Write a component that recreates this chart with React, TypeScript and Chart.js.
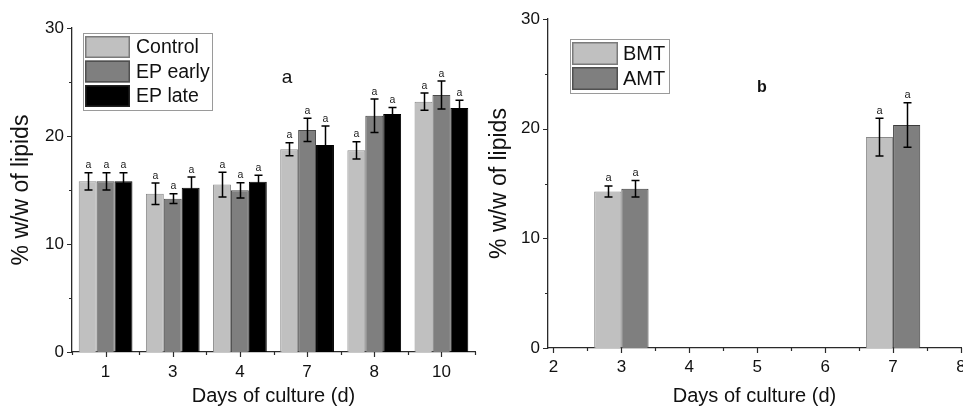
import React, { useEffect, useRef } from 'react';
import { Chart, registerables } from 'chart.js';

Chart.register(...registerables);
Chart.defaults.font.family = '"Liberation Sans", Arial, Helvetica, sans-serif';
Chart.defaults.color = '#111';

// ---------- Panel a data ----------
const daysA = ['1', '3', '4', '7', '8', '10'];
const controlMean = [15.8, 14.65, 15.5, 18.77, 18.67, 23.18];
const controlErr = [0.8, 1.0, 1.15, 0.6, 0.8, 0.8];
const earlyMean = [15.8, 14.2, 14.97, 20.56, 21.88, 23.8];
const earlyErr = [0.8, 0.45, 0.7, 1.08, 1.55, 1.3];
const lateMean = [15.8, 15.2, 15.77, 19.17, 22.04, 22.6];
const lateErr = [0.8, 1.0, 0.6, 1.76, 0.6, 0.7];
const lettersA = ['a', 'a', 'a', 'a', 'a', 'a'];

// ---------- Panel b data ----------
const daysB = [3, 7];
const bmtMean = [14.28, 19.23];
const bmtErr = [0.5, 1.72];
const amtMean = [14.52, 20.33];
const amtErr = [0.75, 2.03];
const lettersB = ['a', 'a'];

// axis settings
const yMin = 0;
const yMax = 30;
const yMajorStep = 10;
const yMinorStep = 5;
const xBMin = 1.92;
const xBMax = 8;

const panelA = { text: 'a', x: 2.7, y: 25.4 };
const panelB = { text: 'b', x: 5.07, y: 23.7 };

const AXIS_COLOR = '#2a2a2a';
const FONT = '"Liberation Sans", Arial, sans-serif';

const errorBarPlugin = {
  id: 'errorBars',
  afterDatasetsDraw(chart: any, _a: any, o: any) {
    const ctx = chart.ctx;
    const ys = chart.scales.y;
    chart.data.datasets.forEach((ds: any, di: number) => {
      const meta = chart.getDatasetMeta(di);
      meta.data.forEach((bar: any, i: number) => {
        const raw = ds.data[i];
        const v = typeof raw === 'number' ? raw : raw.y;
        const e = ds.errors[i];
        const top = ys.getPixelForValue(v + e);
        const bot = ys.getPixelForValue(v - e);
        const x = Math.round(bar.x) + 0.5;
        ctx.save();
        ctx.strokeStyle = o.color;
        ctx.lineWidth = o.lineWidth;
        ctx.beginPath();
        ctx.moveTo(x, top);
        ctx.lineTo(x, bot);
        ctx.moveTo(x - o.cap / 2, top);
        ctx.lineTo(x + o.cap / 2, top);
        ctx.moveTo(x - o.cap / 2, bot);
        ctx.lineTo(x + o.cap / 2, bot);
        ctx.stroke();
        ctx.fillStyle = o.letterColor;
        ctx.font = o.letterFont;
        ctx.textAlign = 'center';
        ctx.textBaseline = 'bottom';
        ctx.fillText(ds.letters[i], x, top - o.letterGap);
        ctx.restore();
      });
    });
  },
};

const axisTickPlugin = {
  id: 'axisTicks',
  afterDraw(chart: any, _a: any, o: any) {
    const { ctx, chartArea } = chart;
    const xs = chart.scales.x;
    const ys = chart.scales.y;
    ctx.save();
    ctx.strokeStyle = o.color;
    ctx.lineWidth = o.lineWidth;
    ctx.beginPath();
    for (let v = ys.min; v <= ys.max + 1e-9; v += o.yMinorStep) {
      const p = Math.round(ys.getPixelForValue(v)) + 0.5;
      const r = v / o.yMajorStep;
      const major = Math.abs(r - Math.round(r)) < 1e-6;
      const len = major ? o.majorLen : o.minorLen;
      ctx.moveTo(chartArea.left - len, p);
      ctx.lineTo(chartArea.left, p);
    }
    const bottom = chartArea.bottom;
    if (xs.type === 'category') {
      const n = chart.data.labels.length;
      for (let i = 0; i < n; i++) {
        const p = Math.round(xs.getPixelForValue(i)) + 0.5;
        ctx.moveTo(p, bottom);
        ctx.lineTo(p, bottom + o.majorLen);
      }
      for (let i = 0; i <= n; i++) {
        const p = Math.round(xs.getPixelForValue(i - 0.5)) + 0.5;
        ctx.moveTo(p, bottom);
        ctx.lineTo(p, bottom + o.minorLen);
      }
    } else {
      const start = Math.ceil(xs.min / o.xMinorStep) * o.xMinorStep;
      for (let v = start; v <= xs.max + 1e-9; v += o.xMinorStep) {
        const p = Math.round(xs.getPixelForValue(v)) + 0.5;
        const r = v / o.xMajorStep;
        const major = Math.abs(r - Math.round(r)) < 1e-6;
        ctx.moveTo(p, bottom);
        ctx.lineTo(p, bottom + (major ? o.majorLen : o.minorLen));
      }
    }
    ctx.stroke();
    ctx.restore();
  },
};

const boxLegendPlugin = {
  id: 'boxLegend',
  afterDraw(chart: any, _a: any, o: any) {
    const ctx = chart.ctx;
    ctx.save();
    ctx.fillStyle = '#fff';
    ctx.fillRect(o.x, o.y, o.width, o.height);
    ctx.strokeStyle = o.frameColor;
    ctx.lineWidth = 1;
    ctx.strokeRect(o.x + 0.5, o.y + 0.5, o.width, o.height);
    chart.data.datasets.forEach((ds: any, i: number) => {
      const sx = o.x + o.padLeft;
      const sy = o.y + o.padTop + i * o.rowHeight;
      ctx.fillStyle = ds.backgroundColor;
      ctx.fillRect(sx, sy, o.swatchW, o.swatchH);
      ctx.strokeStyle = ds.legendBorder;
      ctx.lineWidth = o.swatchBorder;
      ctx.strokeRect(sx + 0.75, sy + 0.75, o.swatchW - 1.5, o.swatchH - 1.5);
      ctx.fillStyle = o.textColor;
      ctx.font = o.font;
      ctx.textAlign = 'left';
      ctx.textBaseline = 'middle';
      ctx.fillText(ds.label, sx + o.swatchW + o.textGap, sy + o.swatchH / 2 + 1);
    });
    ctx.restore();
  },
};

const panelLabelPlugin = {
  id: 'panelLabel',
  afterDraw(chart: any, _a: any, o: any) {
    const ctx = chart.ctx;
    ctx.save();
    ctx.fillStyle = o.color;
    ctx.font = o.font;
    ctx.textAlign = 'center';
    ctx.textBaseline = 'middle';
    ctx.fillText(o.text, chart.scales.x.getPixelForValue(o.x), chart.scales.y.getPixelForValue(o.y));
    ctx.restore();
  },
};

function yScale(width: number, titlePad: number) {
  return {
    min: yMin,
    max: yMax,
    ticks: { stepSize: yMajorStep, padding: 8, font: { size: 17 }, color: '#111' },
    grid: { display: false, drawTicks: false },
    border: { display: true, color: AXIS_COLOR, width: 1.3 },
    title: {
      display: true,
      text: '% w/w of lipids',
      font: { size: 23 },
      color: '#111',
      padding: { top: titlePad, bottom: 0 },
    },
    afterFit(scale: any) {
      scale.width = width;
    },
  };
}

function xTitle() {
  return {
    display: true,
    text: 'Days of culture (d)',
    font: { size: 20 },
    color: '#111',
    padding: { top: 0, bottom: 0 },
  };
}

export default function App() {
  const refA = useRef<HTMLCanvasElement>(null);
  const refB = useRef<HTMLCanvasElement>(null);

  useEffect(() => {
    const chartA = new Chart(refA.current as HTMLCanvasElement, {
      type: 'bar',
      data: {
        labels: daysA,
        datasets: [
          { label: 'Control', data: controlMean, errors: controlErr, letters: lettersA, backgroundColor: '#c0c0c0', borderColor: '#8a8a8a', legendBorder: '#7a7a7a', borderWidth: 1 },
          { label: 'EP early', data: earlyMean, errors: earlyErr, letters: lettersA, backgroundColor: '#7f7f7f', borderColor: '#4a4a4a', legendBorder: '#505050', borderWidth: 1 },
          { label: 'EP late', data: lateMean, errors: lateErr, letters: lettersA, backgroundColor: '#000000', borderColor: '#000000', legendBorder: '#222', borderWidth: 1 },
        ] as any,
      },
      options: {
        responsive: false,
        animation: false,
        layout: { padding: { left: 0, top: 28, right: 5, bottom: 0 } },
        datasets: { bar: { categoryPercentage: 0.8, barPercentage: 1.0 } },
        plugins: {
          legend: { display: false },
          tooltip: { enabled: false },
          errorBars: { color: '#000', lineWidth: 1.5, cap: 8, letterColor: '#222', letterFont: '10.5px ' + FONT, letterGap: 2 },
          axisTicks: { color: AXIS_COLOR, lineWidth: 1.2, majorLen: 5, minorLen: 3, yMajorStep, yMinorStep },
          boxLegend: { x: 83, y: 33, width: 129, height: 77, padLeft: 2, padTop: 3, rowHeight: 24.5, swatchW: 45, swatchH: 22, swatchBorder: 1.5, textGap: 6, frameColor: '#9a9a9a', textColor: '#111', font: '19.5px ' + FONT },
          panelLabel: { ...panelA, color: '#111', font: '19px ' + FONT },
        } as any,
        scales: {
          x: {
            type: 'category',
            offset: true,
            ticks: { padding: 10, font: { size: 17 }, color: '#111' },
            grid: { display: false, drawTicks: false },
            border: { display: true, color: AXIS_COLOR, width: 1.3 },
            title: xTitle(),
            afterFit(scale: any) {
              scale.height = 56;
            },
          },
          y: yScale(72, 8),
        } as any,
      },
      plugins: [errorBarPlugin, axisTickPlugin, boxLegendPlugin, panelLabelPlugin],
    } as any);

    const chartB = new Chart(refB.current as HTMLCanvasElement, {
      type: 'bar',
      data: {
        datasets: [
          { label: 'BMT', data: daysB.map((d, i) => ({ x: d, y: bmtMean[i] })), errors: bmtErr, letters: lettersB, backgroundColor: '#c0c0c0', borderColor: '#8a8a8a', legendBorder: '#7a7a7a', borderWidth: 1 },
          { label: 'AMT', data: daysB.map((d, i) => ({ x: d, y: amtMean[i] })), errors: amtErr, letters: lettersB, backgroundColor: '#7f7f7f', borderColor: '#3c3c3c', legendBorder: '#505050', borderWidth: 1 },
        ] as any,
      },
      options: {
        responsive: false,
        animation: false,
        layout: { padding: { left: 0, top: 19, right: 14, bottom: 0 } },
        datasets: { bar: { categoryPercentage: 0.8, barPercentage: 1.0 } },
        plugins: {
          legend: { display: false },
          tooltip: { enabled: false },
          errorBars: { color: '#000', lineWidth: 1.5, cap: 8, letterColor: '#222', letterFont: '11px ' + FONT, letterGap: 2 },
          axisTicks: { color: AXIS_COLOR, lineWidth: 1.2, majorLen: 5, minorLen: 3, yMajorStep, yMinorStep, xMajorStep: 1, xMinorStep: 0.5 },
          boxLegend: { x: 100, y: 39, width: 99, height: 54, padLeft: 2, padTop: 3, rowHeight: 25, swatchW: 46, swatchH: 23, swatchBorder: 1.5, textGap: 5, frameColor: '#9a9a9a', textColor: '#111', font: '20px ' + FONT },
          panelLabel: { ...panelB, color: '#111', font: 'bold 16px ' + FONT },
        } as any,
        scales: {
          x: {
            type: 'linear',
            offset: false,
            min: xBMin,
            max: xBMax,
            ticks: { stepSize: 1, includeBounds: false, padding: 9, font: { size: 17 }, color: '#111' },
            grid: { display: false, drawTicks: false, offset: false },
            border: { display: true, color: AXIS_COLOR, width: 1.3 },
            title: xTitle(),
            afterFit(scale: any) {
              scale.height = 60;
            },
          },
          y: yScale(78, 16),
        } as any,
      },
      plugins: [errorBarPlugin, axisTickPlugin, boxLegendPlugin, panelLabelPlugin],
    } as any);

    return () => {
      chartA.destroy();
      chartB.destroy();
    };
  }, []);

  return (
    <div style={{ position: 'absolute', left: 0, top: 0, width: 963, height: 408, overflow: 'hidden', background: '#fff' }}>
      <canvas ref={refA} width={480} height={408} style={{ position: 'absolute', left: 0, top: 0, width: 480, height: 408 }} />
      <canvas ref={refB} width={505} height={408} style={{ position: 'absolute', left: 470, top: 0, width: 505, height: 408 }} />
    </div>
  );
}
